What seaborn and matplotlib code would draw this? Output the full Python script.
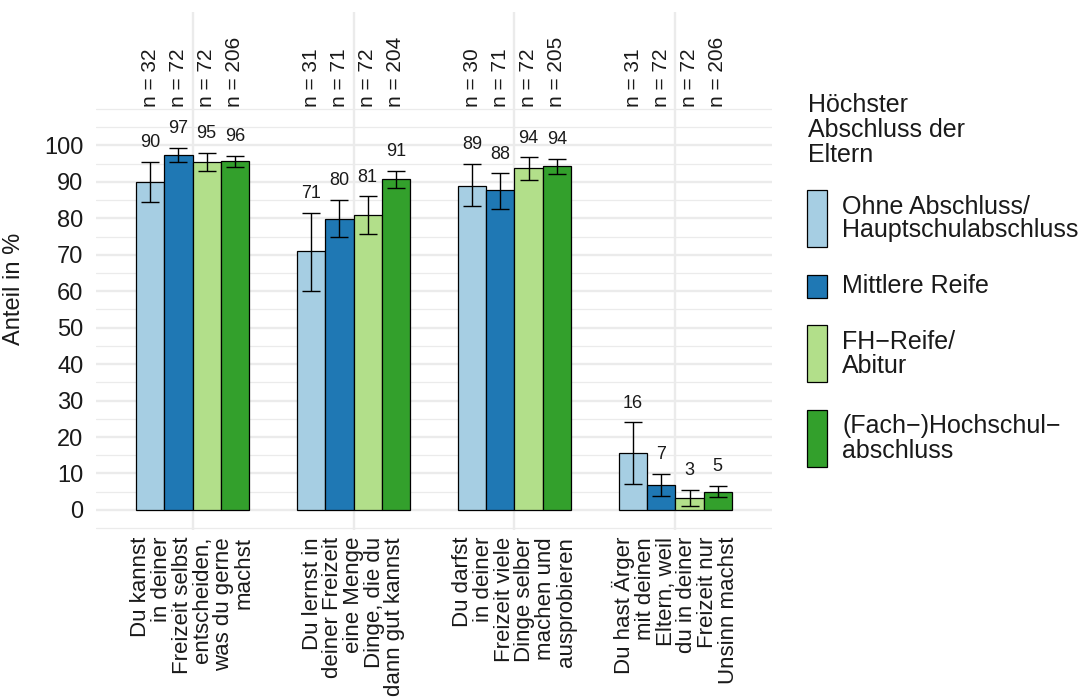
import matplotlib
matplotlib.use("Agg")
import matplotlib.pyplot as plt
from matplotlib.patches import Rectangle
import seaborn as sns
import pandas as pd

# --- data ---
items = [
    "Du kannst\nin deiner\nFreizeit selbst\nentscheiden,\nwas du gerne\nmachst",
    "Du lernst in\ndeiner Freizeit\neine Menge\nDinge, die du\ndann gut kannst",
    "Du darfst\nin deiner\nFreizeit viele\nDinge selber\nmachen und\nausprobieren",
    "Du hast Ärger\nmit deinen\nEltern, weil\ndu in deiner\nFreizeit nur\nUnsinn machst",
]
groups = [
    "Ohne Abschluss/\nHauptschulabschluss",
    "Mittlere Reife",
    "FH\u2212Reife/\nAbitur",
    "(Fach\u2212)Hochschul\u2212\nabschluss",
]
colors = ["#A6CEE3", "#1F78B4", "#B2DF8A", "#33A02C"]

# one row per item, one column per group
share = [
    [90.1, 97.3, 95.4, 95.8],
    [70.9, 79.8, 81.0, 90.7],
    [88.9, 87.8, 93.8, 94.4],
    [15.6, 6.8, 3.2, 5.0],
]
lower = [
    [84.6, 95.4, 93.0, 94.2],
    [60.2, 74.8, 75.6, 88.2],
    [83.3, 82.5, 90.4, 92.2],
    [7.2, 3.7, 1.0, 3.6],
]
upper = [
    [95.4, 99.3, 98.0, 97.2],
    [81.4, 85.0, 86.0, 92.9],
    [94.8, 92.3, 96.7, 96.4],
    [24.0, 9.9, 5.5, 6.5],
]
n_obs = [
    [32, 72, 72, 206],
    [31, 71, 72, 204],
    [30, 71, 72, 205],
    [31, 72, 72, 206],
]

rows = []
for i, item in enumerate(items):
    for j, grp in enumerate(groups):
        rows.append({"item": item, "group": grp, "value": share[i][j],
                     "lo": lower[i][j], "hi": upper[i][j], "n": n_obs[i][j]})
df = pd.DataFrame(rows)

sns.set_theme(style="white")
plt.rcParams["font.family"] = ["Liberation Sans", "DejaVu Sans"]

W, H = 1085, 699
fig = plt.figure(figsize=(W / 100, H / 100), dpi=100)
ax = fig.add_axes([96 / W, 1 - 530 / H, 676 / W, 518 / H])

# grid first so bars sit on top
ax.set_axisbelow(True)
for v in range(-5, 115, 5):
    major = v % 10 == 0 and 0 <= v <= 100
    ax.axhline(v, color="#EBEBEB", lw=1.7 if major else 0.9, zorder=0)
for k in range(len(items)):
    ax.axvline(k, color="#EBEBEB", lw=1.7, zorder=0)

sns.barplot(data=df, x="item", y="value", hue="group", hue_order=groups,
            order=items, palette=colors, width=0.7, errorbar=None,
            edgecolor="black", linewidth=0.9, saturation=1, legend=False, ax=ax)

# bars sorted left->right match df order (item, then group)
bars = sorted(ax.patches, key=lambda p: p.get_x())
for bar, (_, r) in zip(bars, df.iterrows()):
    xc = bar.get_x() + bar.get_width() / 2
    ax.errorbar(xc, r["value"], yerr=[[r["value"] - r["lo"]], [r["hi"] - r["value"]]],
                fmt="none", ecolor="black", elinewidth=1, capsize=6.5, capthick=1, zorder=4)
    ax.text(xc, r["hi"] + 3, f"{r['value']:.0f}", ha="center", va="bottom",
            fontsize=13, color="#1A1A1A")
    ax.text(xc, 110.6, f"n = {r['n']}", rotation=90, ha="center", va="bottom",
            fontsize=15, color="#1A1A1A")

ax.set_xlim(-0.6, len(items) - 0.4)
ax.set_ylim(-5.5, 136.6)
ax.set_yticks(range(0, 101, 10))
ax.tick_params(axis="y", length=0, pad=9, labelsize=17, labelcolor="#1A1A1A")
ax.tick_params(axis="x", length=0, pad=5)
ax.set_xticks(range(len(items)))
ax.set_xticklabels(items, rotation=90, ha="center", va="top", fontsize=16,
                   multialignment="right", linespacing=0.98, color="#1A1A1A")
ax.set_xlabel("")
ax.set_ylabel("Anteil in %", fontsize=17, color="#1A1A1A")
ax.yaxis.set_label_coords(-0.105, 0.465)
for s in ax.spines.values():
    s.set_visible(False)

# legend drawn by hand: keys grow with the number of label lines
fig.text(808 / W, 1 - 93 / H, "Höchster\nAbschluss der\nEltern", ha="left", va="top",
         fontsize=18, linespacing=1.05, color="#1A1A1A")
key_top = 190
for grp, col in zip(groups, colors):
    nlines = grp.count("\n") + 1
    kh = 57 if nlines == 2 else 23
    fig.add_artist(Rectangle((807 / W, 1 - (key_top + kh) / H), 20 / W, kh / H,
                             transform=fig.transFigure, facecolor=col,
                             edgecolor="black", lw=0.9))
    fig.text(842 / W, 1 - (key_top + kh / 2) / H, grp, ha="left", va="center",
             fontsize=18, linespacing=1.0, color="#1A1A1A")
    key_top += kh + (28 if nlines == 2 else 27)

fig.savefig("out.png", dpi=100, facecolor="white")
